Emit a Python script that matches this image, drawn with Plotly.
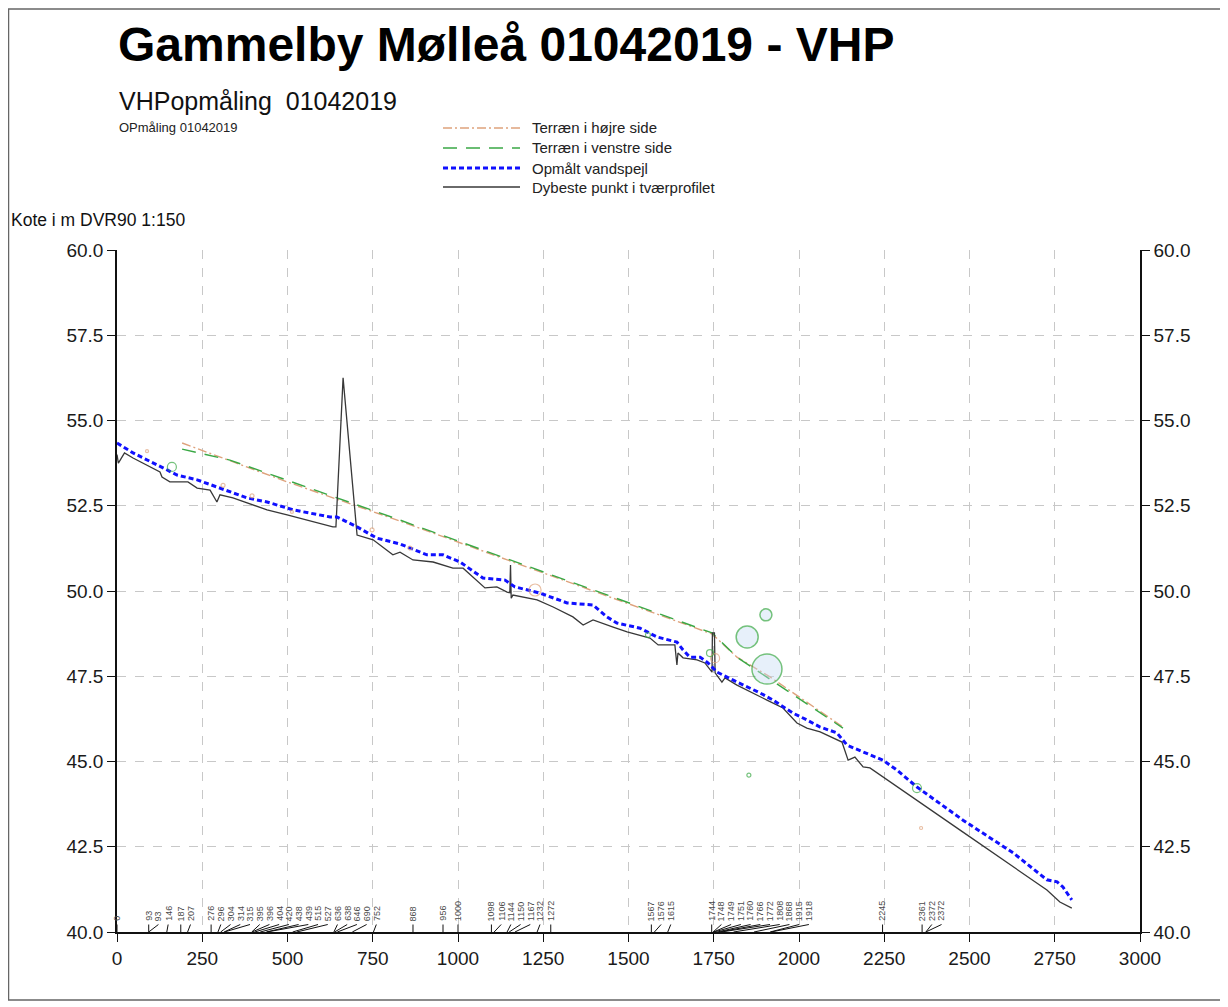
import plotly.graph_objects as go

# ---------------- data ----------------
deep_x = [0, 4, 22, 47, 126, 132, 155, 208, 235, 273, 293, 302, 340, 381, 440, 499, 575, 633, 642, 663,
          704, 751, 809, 830, 868, 927, 985, 1015, 1079, 1114, 1144, 1152, 1154, 1156, 1161, 1232, 1279,
          1337, 1367, 1396, 1455, 1496, 1563, 1587, 1636, 1642, 1645, 1660, 1701, 1724, 1745, 1746, 1752,
          1754, 1774, 1783, 1818, 1856, 1906, 1953, 1994, 2023, 2062, 2126, 2144, 2164, 2188, 2208, 2246,
          2296, 2481, 2727, 2765, 2800]
deep_y = [54.0, 53.75, 54.05, 53.9, 53.49, 53.34, 53.2, 53.2, 53.02, 52.96, 52.61, 52.82, 52.73, 52.58,
          52.38, 52.23, 52.02, 51.88, 51.88, 56.25, 51.64, 51.5, 51.06, 51.14, 50.91, 50.85, 50.67, 50.67,
          50.09, 50.12, 49.97, 49.95, 50.76, 49.79, 49.88, 49.74, 49.53, 49.24, 49.0, 49.15, 48.94, 48.8,
          48.62, 48.42, 48.42, 47.83, 48.18, 48.04, 47.98, 47.89, 47.62, 48.77, 48.77, 47.6, 47.33, 47.45,
          47.24, 47.04, 46.8, 46.57, 46.13, 45.98, 45.87, 45.57, 45.04, 45.13, 44.84, 44.81, 44.55, 44.22,
          42.93, 41.23, 40.88, 40.7]

ws_x = [0, 47, 147, 176, 235, 302, 381, 440, 516, 625, 645, 704, 762, 830, 909, 956, 1006, 1073, 1138,
        1167, 1240, 1320, 1396, 1437, 1466, 1534, 1584, 1642, 1660, 1680, 1710, 1733, 1760, 1818, 1886,
        1924, 1982, 2023, 2062, 2111, 2141, 2188, 2246, 2287, 2346, 2481, 2628, 2727, 2757, 2774, 2800]
ws_y = [54.34, 54.05, 53.55, 53.4, 53.26, 53.02, 52.73, 52.61, 52.38, 52.17, 52.17, 51.88, 51.55, 51.38,
        51.06, 51.06, 50.85, 50.38, 50.32, 50.12, 49.94, 49.65, 49.59, 49.24, 49.06, 48.91, 48.65, 48.5,
        48.27, 48.06, 48.06, 47.89, 47.62, 47.33, 47.01, 46.8, 46.42, 46.22, 46.01, 45.84, 45.48, 45.28,
        45.04, 44.75, 44.25, 43.28, 42.32, 41.53, 41.47, 41.32, 40.94]

tr_x = [191, 499, 830, 1249, 1745, 1818, 1915, 2129]
tr_y = [54.34, 53.2, 52.05, 50.53, 48.74, 48.06, 47.48, 46.01]

tl_x = [191, 331, 830, 1249, 1745, 1818, 2129]
tl_y = [54.16, 53.84, 52.08, 50.56, 48.77, 48.06, 45.98]

tan_mark_x = [88, 311, 396, 513, 748, 859, 1226, 1754, 2358]
tan_mark_y = [54.1, 53.1, 52.79, 52.32, 51.79, 51.26, 50.03, 48.03, 43.05]
tan_mark_size = [3, 4, 4, 3, 4, 4, 12, 9, 3]

green_mark_x = [161, 1557, 1739, 1853, 2346]
green_mark_y = [53.64, 48.71, 48.18, 44.6, 44.22]
green_mark_size = [9, 5, 7, 4, 9]

bubble_x = [1903, 1848, 1906]
bubble_y = [49.3, 48.65, 47.71]
bubble_size = [12, 22, 30]

stations = [0, 93, 93, 146, 187, 207, 276, 296, 304, 314, 315, 395, 396, 404, 420, 438, 439, 515, 527,
            636, 638, 646, 690, 752, 868, 956, 1000, 1098, 1106, 1144, 1150, 1167, 1232, 1272, 1567, 1576,
            1615, 1744, 1748, 1749, 1751, 1760, 1766, 1772, 1808, 1868, 1915, 1918, 2245, 2361, 2372, 2372]

x_ticks = list(range(0, 3001, 250))
y_ticks = [40.0, 42.5, 45.0, 47.5, 50.0, 52.5, 55.0, 57.5, 60.0]

title_text = "Gammelby Mølleå 01042019 - VHP"
subtitle_text = "VHPopmåling  01042019"
small_text = "OPmåling 01042019"
ylabel_text = "Kote i m DVR90 1:150"
legend_names = ["Terræn i højre side", "Terræn i venstre side", "Opmålt vandspejl",
                "Dybeste punkt i tværprofilet"]

# ---------------- styling ----------------
FONT = "Arial, 'Liberation Sans', sans-serif"
TAN = "#dea27c"
GREEN = "#3aa845"
BLUE = "#1010ff"
BLACK = "#383838"
OFF = 8  # page body margin
W, H = 1228, 1007
L, T = 117 - OFF, 250 - OFF
R = W - (1140 - OFF)
B = H - (932 - OFF)
PW, PH = W - L - R, H - T - B


def px(xs):
    return (xs - OFF - L) / PW


def py(ys):
    return (H - B - (ys - OFF)) / PH


styles = [
    dict(color=TAN, width=1.4, dash="9px,3px,2px,3px"),
    dict(color=GREEN, width=1.4, dash="14px,9px"),
    dict(color=BLUE, width=3, dash="5px,3px"),
    dict(color=BLACK, width=1.3, dash="solid"),
]

fig = go.Figure()
fig.add_trace(go.Scatter(x=tr_x, y=tr_y, mode="lines", line=styles[0], name=legend_names[0]))
fig.add_trace(go.Scatter(x=tl_x, y=tl_y, mode="lines", line=styles[1], name=legend_names[1]))
fig.add_trace(go.Scatter(x=deep_x, y=deep_y, mode="lines", line=styles[3], name=legend_names[3]))
fig.add_trace(go.Scatter(x=ws_x, y=ws_y, mode="lines", line=styles[2], name=legend_names[2]))
fig.add_trace(go.Scatter(x=tan_mark_x, y=tan_mark_y, mode="markers",
                         marker=dict(symbol="circle-open", size=tan_mark_size, color=TAN, line=dict(width=1.2))))
fig.add_trace(go.Scatter(x=green_mark_x, y=green_mark_y, mode="markers",
                         marker=dict(symbol="circle-open", size=green_mark_size, color=GREEN, line=dict(width=1.2))))
fig.add_trace(go.Scatter(x=bubble_x, y=bubble_y, mode="markers",
                         marker=dict(symbol="circle", size=bubble_size, color="rgba(200,222,245,0.6)",
                                     line=dict(color=GREEN, width=1.5))))

# station labels with leader lines (label positions pushed apart)
gap = 28.5
label_x = []
for s in stations:
    lx = s if not label_x else max(s, label_x[-1] + gap)
    label_x.append(lx)
lead_x, lead_y = [], []
for s, lx in zip(stations, label_x):
    lead_x += [s, lx, None]
    lead_y += [40.0, 40.22, None]
fig.add_trace(go.Scatter(x=lead_x, y=lead_y, mode="lines", line=dict(color="#111", width=1),
                         hoverinfo="skip"))
annotations = []
for s, lx in zip(stations, label_x):
    annotations.append(dict(x=lx, y=40.26, xref="x", yref="y", text=str(s), showarrow=False,
                            textangle=-90, xanchor="center", yanchor="bottom",
                            font=dict(family=FONT, size=9, color="#4a4a4a")))

# right axis helper trace
fig.add_trace(go.Scatter(x=[0], y=[40], yaxis="y2", mode="markers", marker=dict(opacity=0),
                         hoverinfo="skip"))

# titles
annotations += [
    dict(x=px(116), y=py(44), xref="paper", yref="paper", text="<b>" + title_text + "</b>", showarrow=False,
         xanchor="left", yanchor="middle", font=dict(family=FONT, size=48, color="#000")),
    dict(x=px(117), y=py(101), xref="paper", yref="paper", text=subtitle_text, showarrow=False,
         xanchor="left", yanchor="middle", font=dict(family=FONT, size=25, color="#111")),
    dict(x=px(117), y=py(128), xref="paper", yref="paper", text=small_text, showarrow=False,
         xanchor="left", yanchor="middle", font=dict(family=FONT, size=13, color="#222")),
    dict(x=px(9), y=py(220), xref="paper", yref="paper", text=ylabel_text, showarrow=False,
         xanchor="left", yanchor="middle", font=dict(family=FONT, size=17.5, color="#111")),
]

shapes = []
leg_rows = [128, 148, 168, 187]
for name, st, ry in zip(legend_names, styles, leg_rows):
    shapes.append(dict(type="line", xref="paper", yref="paper", x0=px(443), x1=px(520),
                       y0=py(ry), y1=py(ry), line=st))
    annotations.append(dict(x=px(530), y=py(ry), xref="paper", yref="paper", text=name,
                            showarrow=False, xanchor="left", yanchor="middle",
                            font=dict(family=FONT, size=15, color="#222")))
# outer frame
shapes.append(dict(type="rect", xref="paper", yref="paper", x0=px(8.5), x1=px(1221), y0=py(1000), y1=py(9),
                   line=dict(color="#666", width=1.5), fillcolor="rgba(0,0,0,0)"))

axis_font = dict(family=FONT, size=19, color="#1a1a1a")
fig.update_layout(
    width=W, height=H,
    margin=dict(l=L, r=R, t=T, b=B),
    paper_bgcolor="white", plot_bgcolor="white",
    showlegend=False,
    annotations=annotations,
    shapes=shapes,
    xaxis=dict(range=[0, 3000], tickvals=x_ticks, ticks="outside", ticklen=8, tickcolor="#111",
               showline=True, linecolor="#111", linewidth=1.5, showgrid=True, gridcolor="#c8c8c8",
               griddash="dash", gridwidth=1, zeroline=False, tickfont=axis_font),
    yaxis=dict(range=[40, 60], tickvals=y_ticks, tickformat=".1f", ticks="outside", ticklen=8,
               tickcolor="#111", showline=True, linecolor="#111", linewidth=1.5, showgrid=True,
               gridcolor="#c8c8c8", griddash="dash", gridwidth=1, zeroline=False, tickfont=axis_font),
    yaxis2=dict(range=[40, 60], tickvals=y_ticks, tickformat=".1f", ticks="outside", ticklen=8,
                tickcolor="#111", showline=True, linecolor="#111", linewidth=1.5, showgrid=False,
                zeroline=False, overlaying="y", side="right", tickfont=axis_font),
)
fig.write_html("out.html")
